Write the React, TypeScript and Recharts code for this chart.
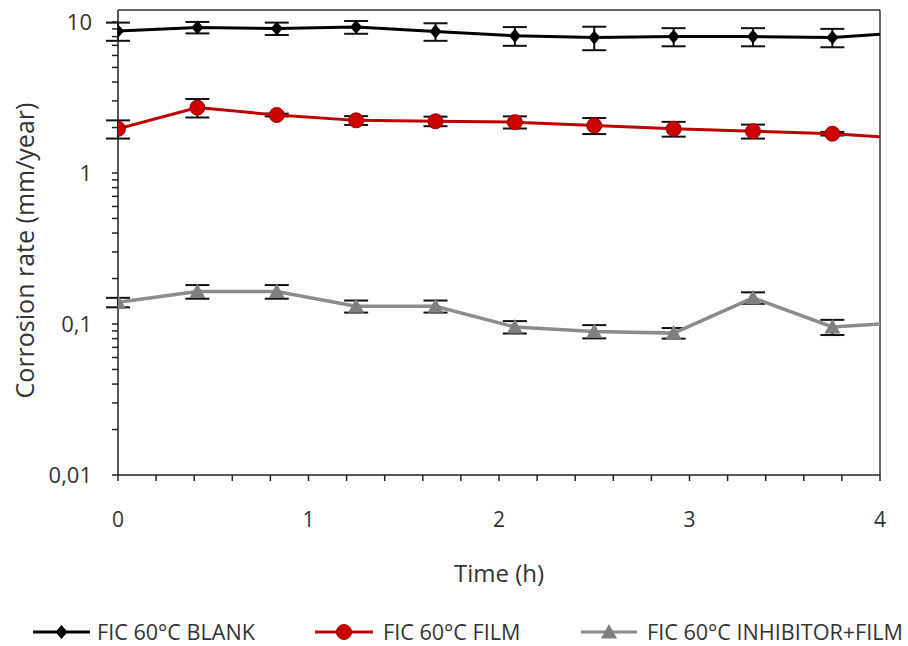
import React from 'react';
import { LineChart, Line, XAxis, YAxis, ErrorBar, ReferenceLine, Legend } from 'recharts';

const times = [0, 0.4167, 0.8333, 1.25, 1.6667, 2.0833, 2.5, 2.9167, 3.3333, 3.75, 4];
const blank = [8.7, 9.2, 9.05, 9.25, 8.65, 8.1, 7.9, 8.0, 8.0, 7.9, 8.3];
const blankErr = [1.2, 0.8, 0.85, 0.9, 1.15, 1.15, 1.4, 1.1, 1.1, 1.1, null];
const film = [1.96, 2.71, 2.42, 2.23, 2.2, 2.17, 2.06, 1.96, 1.89, 1.82, 1.74];
const filmErr = [0.27, 0.38, 0.05, 0.15, 0.16, 0.2, 0.25, 0.22, 0.2, 0.05, null];
const inhib = [0.139, 0.164, 0.164, 0.131, 0.131, 0.0955, 0.0893, 0.087, 0.149, 0.0955, 0.1];
const inhibErr = [0.01, 0.017, 0.017, 0.012, 0.012, 0.009, 0.009, 0.007, 0.013, 0.011, null];

const seriesNames = ['FIC 60°C BLANK', 'FIC 60°C FILM', 'FIC 60°C INHIBITOR+FILM'];
const yTicks = [0.01, 0.02, 0.03, 0.04, 0.05, 0.06, 0.07, 0.08, 0.09, 0.1, 0.2, 0.3, 0.4, 0.5, 0.6, 0.7, 0.8, 0.9, 1, 2, 3, 4, 5, 6, 7, 8, 9, 10];
const yLabels: Record<string, string> = { '0.01': '0,01', '0.1': '0,1', '1': '1', '10': '10' };
const xTicks = [0, 0.2, 0.4, 0.6, 0.8, 1, 1.2, 1.4, 1.6, 1.8, 2, 2.2, 2.4, 2.6, 2.8, 3, 3.2, 3.4, 3.6, 3.8, 4];
const xLabels: Record<string, string> = { '0': '0', '1': '1', '2': '2', '3': '3', '4': '4' };

const data = times.map((t, i) => ({
  t,
  blank: blank[i],
  blankErr: blankErr[i],
  film: film[i],
  filmErr: filmErr[i],
  inhib: inhib[i],
  inhibErr: inhibErr[i],
}));

const FONT = '"Open Sans", sans-serif';
const TEXT = '#333';
const BLACK = '#000';
const RED = '#C00000';
const GRAY = '#8C8C8C';
const LAST = times.length - 1;

const Diamond = ({ cx, cy }: { cx: number; cy: number }) => (
  <polygon points={`${cx},${cy - 7} ${cx + 6},${cy} ${cx},${cy + 7} ${cx - 6},${cy}`} fill={BLACK} />
);
const Circle = ({ cx, cy }: { cx: number; cy: number }) => (
  <circle cx={cx} cy={cy} r={7.5} fill="#CC0000" stroke="#990000" strokeWidth={1} />
);
const Triangle = ({ cx, cy }: { cx: number; cy: number }) => (
  <polygon points={`${cx},${cy - 8} ${cx + 8},${cy + 6.5} ${cx - 8},${cy + 6.5}`} fill="#7F7F7F" />
);

const makeDot = (Shape: any) => (props: any) => {
  const { cx, cy, index } = props;
  if (index === LAST || cx == null || cy == null) return <g key={`d-${index}`} />;
  return <g key={`d-${index}`}><Shape cx={cx} cy={cy} /></g>;
};

const LegendContent = () => {
  const items = [
    { name: seriesNames[0], color: BLACK, Shape: Diamond, x0: 33, x1: 90, tx: 97 },
    { name: seriesNames[1], color: RED, Shape: Circle, x0: 315, x1: 373, tx: 383 },
    { name: seriesNames[2], color: GRAY, Shape: Triangle, x0: 581, x1: 637, tx: 647 },
  ];
  const cy = 20;
  return (
    <svg width={908} height={34} style={{ display: 'block' }}>
      {items.map((it) => (
        <g key={it.name}>
          <line x1={it.x0} x2={it.x1} y1={cy} y2={cy} stroke={it.color} strokeWidth={3} />
          <it.Shape cx={(it.x0 + it.x1) / 2} cy={cy} />
          <text x={it.tx} y={cy} dy="0.36em" fontFamily={FONT} fontSize={21.6} fill={TEXT}>{it.name}</text>
        </g>
      ))}
    </svg>
  );
};

const YLabel = (props: any) => {
  const vb = props.viewBox || { x: 0, y: 0, width: 0, height: 0 };
  const cx = vb.x + 24;
  const cy = vb.y + vb.height / 2 + 8;
  return (
    <text
      x={cx}
      y={cy}
      transform={`rotate(-90, ${cx}, ${cy})`}
      textAnchor="middle"
      dominantBaseline="central"
      fontFamily={FONT}
      fontSize={25}
      fill={TEXT}
    >
      Corrosion rate (mm/year)
    </text>
  );
};

export default function App() {
  return (
    <div style={{ position: 'absolute', left: 0, top: 0, background: '#fff' }}>
      <LineChart width={908} height={646} data={data} margin={{ top: 10, right: 28, bottom: 0, left: 0 }}>
        <XAxis
          dataKey="t"
          type="number"
          domain={[0, 4]}
          ticks={xTicks}
          interval={0}
          allowDataOverflow
          tickFormatter={(v: number) => xLabels[String(Math.round(v * 10) / 10)] ?? ''}
          tickSize={6}
          tickMargin={31}
          height={137}
          axisLine={{ stroke: '#222', strokeWidth: 1.5 }}
          tickLine={{ stroke: '#222', strokeWidth: 1.5 }}
          tick={{ fill: TEXT, fontSize: 21, fontFamily: FONT }}
          label={{ value: 'Time (h)', position: 'insideBottom', offset: 30, style: { fill: TEXT, fontSize: 24, fontFamily: FONT } }}
        />
        <YAxis
          type="number"
          scale="log"
          domain={[0.01, 12]}
          ticks={yTicks}
          interval={0}
          allowDataOverflow
          tickFormatter={(v: number) => yLabels[String(v)] ?? ''}
          tickSize={6}
          tickMargin={20}
          width={118}
          axisLine={{ stroke: '#222', strokeWidth: 1.5 }}
          tickLine={{ stroke: '#222', strokeWidth: 1.5 }}
          tick={{ fill: TEXT, fontSize: 22, fontFamily: FONT }}
          label={{ value: 'Corrosion rate (mm/year)', position: 'insideLeft', content: (p: any) => <YLabel {...p} /> }}
        />
        <ReferenceLine y={12} stroke="#333" strokeWidth={1.5} />
        <ReferenceLine x={4} stroke="#333" strokeWidth={1.5} />
        <Legend
          verticalAlign="bottom"
          content={() => <LegendContent />}
          wrapperStyle={{ position: 'absolute', left: 0, top: 612, width: 908, height: 34 }}
        />
        <Line dataKey="inhib" name={seriesNames[2]} stroke={GRAY} strokeWidth={3.5} dot={makeDot(Triangle)} activeDot={false} isAnimationActive={false}>
          <ErrorBar dataKey="inhibErr" width={12} stroke="#111" strokeWidth={2} direction="y" />
        </Line>
        <Line dataKey="film" name={seriesNames[1]} stroke={RED} strokeWidth={3} dot={makeDot(Circle)} activeDot={false} isAnimationActive={false}>
          <ErrorBar dataKey="filmErr" width={12} stroke="#111" strokeWidth={2} direction="y" />
        </Line>
        <Line dataKey="blank" name={seriesNames[0]} stroke={BLACK} strokeWidth={3} dot={makeDot(Diamond)} activeDot={false} isAnimationActive={false}>
          <ErrorBar dataKey="blankErr" width={12} stroke="#111" strokeWidth={2} direction="y" />
        </Line>
      </LineChart>
    </div>
  );
}
